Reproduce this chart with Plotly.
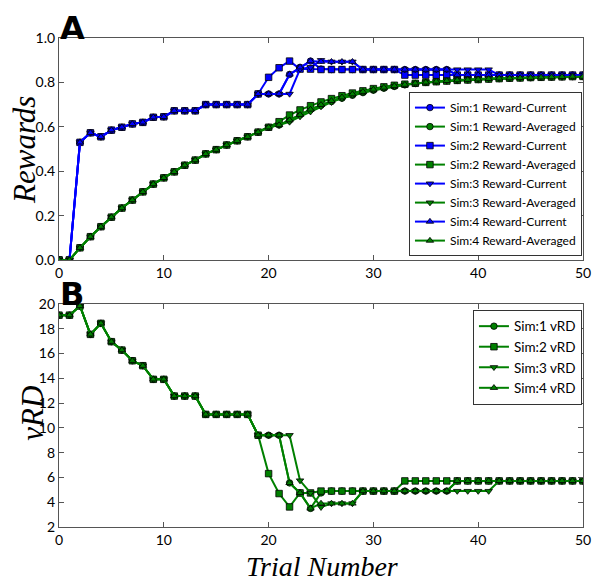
import plotly.graph_objects as go

trials = list(range(0, 51))

common_cur = [0.0, 0.0, 0.53, 0.573, 0.555, 0.585, 0.598, 0.613, 0.62, 0.643, 0.645,
              0.672, 0.672, 0.672, 0.70, 0.70, 0.70, 0.70, 0.70, 0.748]
sim1_current = common_cur + [0.748, 0.748, 0.836, 0.868, 0.896, 0.86] + [0.858] * 12 + [0.833] * 13
sim2_current = common_cur + [0.823, 0.866, 0.896, 0.86, 0.86] + [0.858] * 8 + [0.833] * 18
sim3_current = common_cur + [0.748, 0.748, 0.748, 0.86, 0.868, 0.9, 0.893, 0.893, 0.893] + [0.858] * 13 + [0.833] * 9
sim4_current = common_cur + [0.748, 0.748, 0.836, 0.868, 0.896, 0.893, 0.893, 0.893, 0.893] + [0.858] * 9 + [0.833] * 13

common_avg = [0.0, 0.0, 0.055, 0.105, 0.15, 0.193, 0.234, 0.27, 0.307, 0.342, 0.37,
              0.397, 0.427, 0.45, 0.478, 0.497, 0.518, 0.537, 0.555, 0.576, 0.598]
sim1_avg = common_avg + [0.608, 0.63, 0.654, 0.678, 0.697, 0.714, 0.729, 0.742, 0.754, 0.765,
                         0.774, 0.782, 0.789, 0.795, 0.8, 0.804, 0.807, 0.809, 0.811, 0.813,
                         0.815, 0.817, 0.819, 0.82, 0.821, 0.823, 0.824, 0.825, 0.826, 0.826]
sim2_avg = common_avg + [0.623, 0.653, 0.676, 0.695, 0.712, 0.727, 0.74, 0.752, 0.762, 0.772,
                         0.78, 0.787, 0.792, 0.796, 0.8, 0.803, 0.806, 0.809, 0.811, 0.813,
                         0.815, 0.817, 0.819, 0.82, 0.822, 0.823, 0.824, 0.825, 0.826, 0.827]
sim3_avg = common_avg + [0.608, 0.622, 0.646, 0.668, 0.691, 0.711, 0.728, 0.743, 0.755, 0.765,
                         0.774, 0.782, 0.789, 0.795, 0.8, 0.804, 0.808, 0.811, 0.814, 0.816,
                         0.818, 0.819, 0.82, 0.821, 0.822, 0.823, 0.824, 0.825, 0.826, 0.826]
sim4_avg = common_avg + [0.608, 0.63, 0.654, 0.678, 0.699, 0.717, 0.733, 0.747, 0.758, 0.768,
                         0.777, 0.784, 0.79, 0.796, 0.8, 0.804, 0.807, 0.81, 0.812, 0.814,
                         0.816, 0.818, 0.819, 0.82, 0.821, 0.823, 0.824, 0.825, 0.826, 0.826]

common_vrd = [19.1, 19.1, 19.84, 17.55, 18.44, 16.96, 16.28, 15.42, 15.02, 13.92, 13.92,
              12.57, 12.57, 12.57, 11.09, 11.09, 11.09, 11.09, 11.09, 9.41]
sim1_vrd = common_vrd + [9.41, 9.41, 5.56, 4.75, 3.5, 4.75] + [4.9] * 12 + [5.72] * 13
sim2_vrd = common_vrd + [6.31, 4.7, 3.62, 4.75, 4.75] + [4.9] * 8 + [5.72] * 18
sim3_vrd = common_vrd + [9.41, 9.41, 9.41, 5.75, 4.75, 3.6, 3.9, 3.9, 3.9] + [4.9] * 13 + [5.72] * 9
sim4_vrd = common_vrd + [9.41, 9.41, 5.56, 4.75, 3.5, 3.9, 3.9, 3.9, 3.9] + [4.9] * 9 + [5.72] * 13

sim_names = ["Sim:1", "Sim:2", "Sim:3", "Sim:4"]
symbols = ["circle", "square", "triangle-down", "triangle-up"]

BLUE = "#0000ff"
GREEN = "#008000"
TICKFONT = "Lato, Roboto, sans-serif"
BOLDFONT = "DejaVu Sans, sans-serif"
SERIF = "Liberation Serif, DejaVu Serif, serif"

fig = go.Figure()

cur = [sim1_current, sim2_current, sim3_current, sim4_current]
avg = [sim1_avg, sim2_avg, sim3_avg, sim4_avg]
vrd = [sim1_vrd, sim2_vrd, sim3_vrd, sim4_vrd]

for i in range(4):
    fig.add_trace(go.Scatter(
        x=trials, y=cur[i], mode="lines+markers", name=f"{sim_names[i]} Reward-Current",
        line=dict(color=BLUE, width=2),
        marker=dict(symbol=symbols[i], size=6.5, color=BLUE, line=dict(color="black", width=0.8)),
        xaxis="x", yaxis="y", legend="legend"))
    fig.add_trace(go.Scatter(
        x=trials, y=avg[i], mode="lines+markers", name=f"{sim_names[i]} Reward-Averaged",
        line=dict(color=GREEN, width=2),
        marker=dict(symbol=symbols[i], size=6.5, color=GREEN, line=dict(color="black", width=0.8)),
        xaxis="x", yaxis="y", legend="legend"))

for i in range(4):
    fig.add_trace(go.Scatter(
        x=trials, y=vrd[i], mode="lines+markers", name=f"{sim_names[i]} vRD",
        line=dict(color=GREEN, width=2),
        marker=dict(symbol=symbols[i], size=6.5, color=GREEN, line=dict(color="black", width=0.8)),
        xaxis="x2", yaxis="y2", legend="legend2"))

axis_common = dict(
    showgrid=False, zeroline=False, showline=True, linecolor="#555555", linewidth=1.2,
    mirror="ticks", ticks="inside", ticklen=5, tickcolor="#555555",
    tickfont=dict(family=TICKFONT, size=14, color="black"),
)

# the page body has an 8px margin, so the figure is made 8px smaller and the margins adjusted
fig.update_layout(
    width=595, height=577,
    margin=dict(l=51, r=20, t=30, b=58),
    paper_bgcolor="white", plot_bgcolor="white",
    showlegend=True,
    xaxis=dict(domain=[0, 1], range=[0, 50], dtick=10, anchor="y", **axis_common),
    yaxis=dict(domain=[0.546, 1], range=[0, 1], dtick=0.2, tickformat=".1f", anchor="x", **axis_common),
    xaxis2=dict(domain=[0, 1], range=[0, 50], dtick=10, anchor="y2", **axis_common),
    yaxis2=dict(domain=[0, 0.456], range=[2, 20], dtick=2, anchor="x2", **axis_common),
    legend=dict(x=0.998, y=0.554, xanchor="right", yanchor="bottom",
                bgcolor="white", bordercolor="#333333", borderwidth=1,
                font=dict(family=TICKFONT, size=12, color="black"),
                itemwidth=30, tracegroupgap=0),
    legend2=dict(x=0.998, y=0.444, xanchor="right", yanchor="top",
                 bgcolor="white", bordercolor="#333333", borderwidth=1,
                 font=dict(family=TICKFONT, size=13.5, color="black"),
                 itemwidth=30),
    annotations=[
        dict(text="<b>A</b>", x=-0.002, y=1.0, xref="paper", yref="paper", xanchor="left", yanchor="bottom",
             yshift=-11, showarrow=False, font=dict(family=BOLDFONT, size=32, color="black")),
        dict(text="<b>B</b>", x=-0.002, y=0.456, xref="paper", yref="paper", xanchor="left", yanchor="bottom",
             yshift=-11, showarrow=False, font=dict(family=BOLDFONT, size=32, color="black")),
        dict(text="Rewards", x=-0.065, y=0.771, xref="paper", yref="paper", textangle=-90,
             xanchor="center", yanchor="middle",
             showarrow=False, font=dict(family=SERIF, size=31, color="black", style="italic")),
        dict(text="vRD", x=-0.052, y=0.233, xref="paper", yref="paper", textangle=-90,
             xanchor="center", yanchor="middle",
             showarrow=False, font=dict(family=SERIF, size=31, color="black", style="italic")),
        dict(text="Trial Number", x=0.502, y=-0.08, xref="paper", yref="paper",
             xanchor="center", yanchor="middle",
             showarrow=False, font=dict(family=SERIF, size=28, color="black", style="italic")),
    ],
)

fig.write_html("out.html")
